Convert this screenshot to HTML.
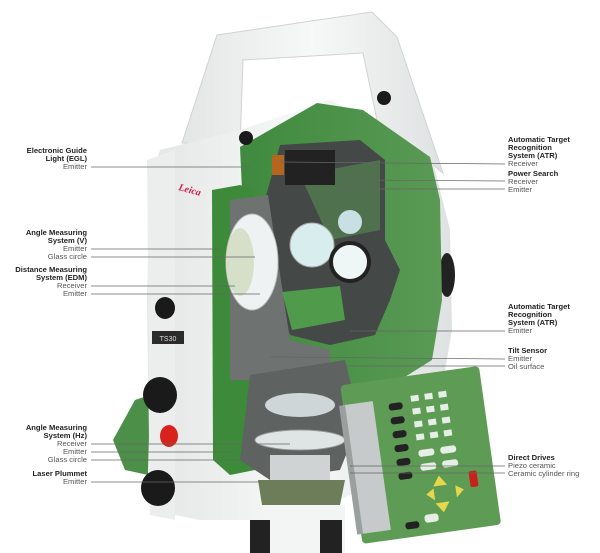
<!DOCTYPE html>
<html><head><meta charset="utf-8"><style>
html,body{margin:0;padding:0;background:#fff}
#w{position:relative;width:600px;height:553px;overflow:hidden;background:#fff;font-family:"Liberation Sans",sans-serif}
svg{position:absolute;left:0;top:0}
.t{position:absolute;font-size:7.6px;line-height:8px;color:#555;white-space:nowrap}
.b{font-weight:bold;color:#222}
.l{text-align:right;right:513px}
.r{left:508px}
</style></head><body><div id="w">
<svg width="600" height="553" viewBox="0 0 600 553">
<defs>
<linearGradient id="wh" x1="0" x2="1"><stop offset="0" stop-color="#e4e6e6"/><stop offset=".5" stop-color="#f7f8f8"/><stop offset="1" stop-color="#dfe2e2"/></linearGradient>
<linearGradient id="gr" x1="0" x2="1"><stop offset="0" stop-color="#3f8a3e"/><stop offset="1" stop-color="#5a9a55"/></linearGradient>
</defs>
<polygon points="135,400 150,395 148,475 125,470 113,440" fill="#4c8f48"/>
<polygon points="182,143 217,35 372,12 397,37 443,173 377,120 363,53 243,60 240,145" fill="url(#wh)" stroke="#cfd3d3" stroke-width="1"/>
<polygon points="160,150 240,130 330,100 430,150 450,230 452,330 440,400 380,480 300,520 200,520 150,510 147,300 150,180" fill="url(#wh)"/>
<polygon points="147,160 175,150 175,520 150,515" fill="#eceeee"/>
<ellipse cx="447" cy="275" rx="8" ry="22" fill="#222"/>
<polygon points="240,147 317,103 363,110 430,157 440,200 442,300 432,360 400,380 380,420 350,440 300,400 250,360" fill="url(#gr)"/>
<polygon points="212,190 240,185 255,190 255,470 230,475 213,460" fill="#3d8a3a"/>
<polygon points="280,145 360,140 385,160 385,240 400,270 390,300 375,335 330,345 290,335 265,280 265,200" fill="#444846"/>
<polygon points="300,175 380,160 380,230 330,240" fill="#5a9a55" opacity=".5"/>
<polygon points="230,200 268,195 290,340 330,350 330,375 260,380 230,380" fill="#6e7270"/>
<polygon points="250,375 345,360 360,420 340,470 270,480 240,460" fill="#5e6260"/>
<ellipse cx="252" cy="262" rx="26" ry="48" fill="#eef2f2" stroke="#bbb"/>
<ellipse cx="240" cy="262" rx="14" ry="34" fill="#d6e0c8"/>
<circle cx="312" cy="245" r="22" fill="#d8eeee" stroke="#aaa"/>
<circle cx="350" cy="262" r="19" fill="#eef6f6" stroke="#222" stroke-width="4"/>
<circle cx="350" cy="222" r="12" fill="#c8e0e4"/>
<polygon points="282,292 340,286 345,320 292,330" fill="#4f9a4b"/>
<rect x="285" y="150" width="50" height="35" fill="#222"/>
<rect x="272" y="155" width="12" height="20" fill="#b5651d"/>
<ellipse cx="300" cy="405" rx="35" ry="12" fill="#cfd6d8"/>
<ellipse cx="300" cy="440" rx="45" ry="10" fill="#dfe4e4" stroke="#999"/>
<rect x="270" y="455" width="60" height="35" fill="#cfd3d3"/>
<polygon points="258,480 345,480 340,505 262,505" fill="#6d7d5a"/>
<rect x="265" y="505" width="80" height="48" fill="#f3f4f4"/>
<rect x="250" y="520" width="20" height="33" fill="#222"/>
<rect x="320" y="520" width="22" height="33" fill="#222"/>
<g transform="rotate(-8 420 450)">
<rect x="350" y="375" width="140" height="160" rx="4" fill="#5e9c56"/>
<rect x="350" y="395" width="30" height="130" fill="#c6caca"/>
<rect x="346" y="395" width="6" height="130" fill="#9aa09e"/>
<g fill="#222"><rect x="395" y="400" width="14" height="7" rx="3"/><rect x="395" y="414" width="14" height="7" rx="3"/><rect x="395" y="428" width="14" height="7" rx="3"/><rect x="395" y="442" width="14" height="7" rx="3"/><rect x="395" y="456" width="14" height="7" rx="3"/><rect x="395" y="470" width="14" height="7" rx="3"/><rect x="395" y="520" width="14" height="7" rx="3"/></g>
<g fill="#e6efe6"><rect x="418" y="395" width="8" height="6"/><rect x="432" y="395" width="8" height="6"/><rect x="446" y="395" width="8" height="6"/><rect x="418" y="408" width="8" height="6"/><rect x="432" y="408" width="8" height="6"/><rect x="446" y="408" width="8" height="6"/><rect x="418" y="421" width="8" height="6"/><rect x="432" y="421" width="8" height="6"/><rect x="446" y="421" width="8" height="6"/><rect x="418" y="434" width="8" height="6"/><rect x="432" y="434" width="8" height="6"/><rect x="446" y="434" width="8" height="6"/><rect x="418" y="450" width="16" height="7" rx="3"/><rect x="440" y="450" width="16" height="7" rx="3"/><rect x="418" y="464" width="16" height="7" rx="3"/><rect x="440" y="464" width="16" height="7" rx="3"/><rect x="415" y="515" width="14" height="8" rx="3"/></g>
<g fill="#e6d84a"><polygon points="435,478 442,488 428,488"/><polygon points="420,495 428,490 428,502"/><polygon points="450,490 458,495 450,502"/><polygon points="428,505 442,505 435,515"/></g>
<rect x="465" y="478" width="8" height="16" rx="2" fill="#c8201a"/>
</g>
<circle cx="246" cy="138" r="7" fill="#1a1a1a"/>
<circle cx="384" cy="98" r="7" fill="#1a1a1a"/>
<ellipse cx="165" cy="308" rx="10" ry="11" fill="#1a1a1a"/>
<rect x="152" y="331" width="32" height="13" fill="#2b2b2b"/>
<text x="168" y="341" font-size="7" fill="#ddd" text-anchor="middle" font-family="Liberation Sans">TS30</text>
<ellipse cx="160" cy="395" rx="17" ry="18" fill="#1a1a1a"/>
<ellipse cx="169" cy="436" rx="9" ry="11" fill="#d8231d"/>
<ellipse cx="158" cy="488" rx="17" ry="18" fill="#1a1a1a"/>
<text x="178" y="190" font-size="10" fill="#d0204a" font-style="italic" font-weight="bold" font-family="Liberation Serif" transform="rotate(15 178 190)">Leica</text>
<g stroke="#666" stroke-width=".7">
<line x1="91" y1="167" x2="250" y2="167"/>
<line x1="91" y1="249" x2="220" y2="249"/>
<line x1="91" y1="257" x2="255" y2="257"/>
<line x1="91" y1="286" x2="235" y2="286"/>
<line x1="91" y1="294" x2="260" y2="294"/>
<line x1="91" y1="444" x2="290" y2="444"/>
<line x1="91" y1="452" x2="230" y2="452"/>
<line x1="91" y1="460" x2="250" y2="460"/>
<line x1="91" y1="482" x2="260" y2="482"/>
<line x1="505" y1="164" x2="280" y2="162"/>
<line x1="505" y1="181" x2="350" y2="180"/>
<line x1="505" y1="189" x2="340" y2="189"/>
<line x1="505" y1="331" x2="350" y2="331"/>
<line x1="505" y1="359" x2="270" y2="357"/>
<line x1="505" y1="366" x2="320" y2="366"/>
<line x1="505" y1="466" x2="350" y2="466"/>
<line x1="505" y1="473" x2="350" y2="473"/>
</g>
</svg>
<div class="t l" style="top:147px"><span class="b">Electronic Guide<br>Light (EGL)</span><br>Emitter</div>
<div class="t l" style="top:229px"><span class="b">Angle Measuring<br>System (V)</span><br>Emitter<br>Glass circle</div>
<div class="t l" style="top:266px"><span class="b">Distance Measuring<br>System (EDM)</span><br>Receiver<br>Emitter</div>
<div class="t l" style="top:424px"><span class="b">Angle Measuring<br>System (Hz)</span><br>Receiver<br>Emitter<br>Glass circle</div>
<div class="t l" style="top:470px"><span class="b">Laser Plummet</span><br>Emitter</div>
<div class="t r" style="top:136px"><span class="b">Automatic Target<br>Recognition<br>System (ATR)</span><br>Receiver</div>
<div class="t r" style="top:170px"><span class="b">Power Search</span><br>Receiver<br>Emitter</div>
<div class="t r" style="top:303px"><span class="b">Automatic Target<br>Recognition<br>System (ATR)</span><br>Emitter</div>
<div class="t r" style="top:347px"><span class="b">Tilt Sensor</span><br>Emitter<br>Oil surface</div>
<div class="t r" style="top:454px"><span class="b">Direct Drives</span><br>Piezo ceramic<br>Ceramic cylinder ring</div>
</div></body></html>
